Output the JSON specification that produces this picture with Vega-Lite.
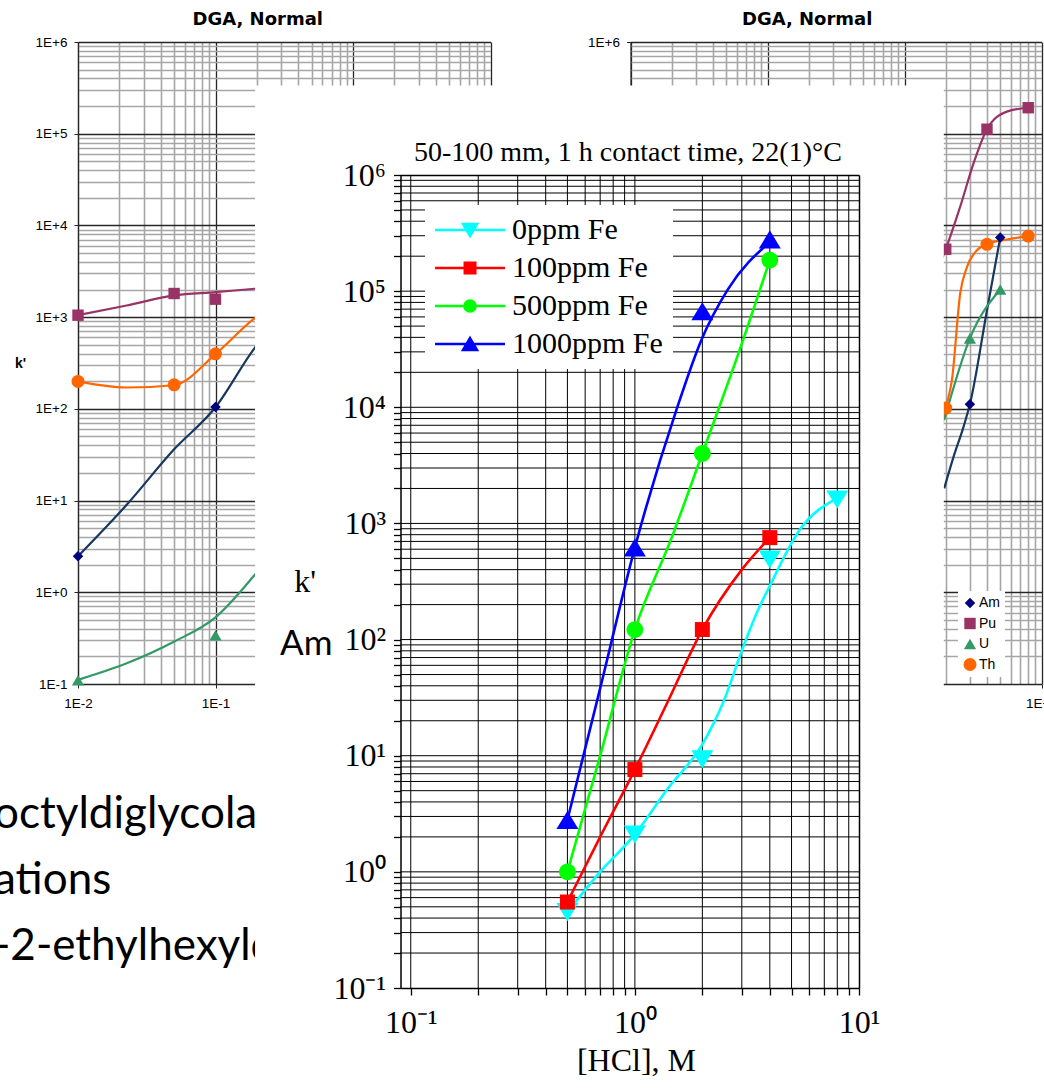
{
  "$schema": "https://vega.github.io/schema/vega-lite/v6.json",
  "width": 1044,
  "height": 1088,
  "autosize": {"type": "none"},
  "padding": 0,
  "background": "white",
  "config": {"view": {"stroke": null}},
  "data": {"values": [{}]},
  "datasets": {
    "leftCurves": [
      {"s": "Pu", "x": 0.01, "k": 1052}, {"s": "Pu", "x": 0.0226, "k": 1340}, {"s": "Pu", "x": 0.0498, "k": 1725}, {"s": "Pu", "x": 0.1, "k": 1874}, {"s": "Pu", "x": 0.193, "k": 2040}, {"s": "Pu", "x": 0.3, "k": 2150},
      {"s": "Th", "x": 0.01, "k": 199}, {"s": "Th", "x": 0.0226, "k": 171}, {"s": "Th", "x": 0.0498, "k": 181}, {"s": "Th", "x": 0.1, "k": 395}, {"s": "Th", "x": 0.193, "k": 975}, {"s": "Th", "x": 0.3, "k": 1500},
      {"s": "Am", "x": 0.01, "k": 2.47}, {"s": "Am", "x": 0.0226, "k": 9.0}, {"s": "Am", "x": 0.0498, "k": 36}, {"s": "Am", "x": 0.1, "k": 104}, {"s": "Am", "x": 0.193, "k": 462}, {"s": "Am", "x": 0.3, "k": 1000},
      {"s": "U", "x": 0.01, "k": 0.111}, {"s": "U", "x": 0.0226, "k": 0.168}, {"s": "U", "x": 0.0498, "k": 0.289}, {"s": "U", "x": 0.1, "k": 0.533}, {"s": "U", "x": 0.193, "k": 1.55}, {"s": "U", "x": 0.3, "k": 3.5}
    ],
    "leftPts": [
      {"s": "Pu", "x": 0.01, "k": 1050}, {"s": "Pu", "x": 0.05, "k": 1810}, {"s": "Pu", "x": 0.1, "k": 1570},
      {"s": "Th", "x": 0.01, "k": 199}, {"s": "Th", "x": 0.05, "k": 183}, {"s": "Th", "x": 0.1, "k": 398},
      {"s": "Am", "x": 0.01, "k": 2.47}, {"s": "Am", "x": 0.1, "k": 105},
      {"s": "U", "x": 0.01, "k": 0.11}, {"s": "U", "x": 0.1, "k": 0.34}
    ],
    "rightCurves": [
      {"s": "Pu", "x": 1.5, "k": 2000}, {"s": "Pu", "x": 2, "k": 5500}, {"s": "Pu", "x": 2.55, "k": 16000}, {"s": "Pu", "x": 3.19, "k": 47500}, {"s": "Pu", "x": 4, "k": 112000}, {"s": "Pu", "x": 5.58, "k": 174000}, {"s": "Pu", "x": 8, "k": 192000},
      {"s": "Th", "x": 1.8, "k": 45}, {"s": "Th", "x": 2, "k": 102}, {"s": "Th", "x": 2.22, "k": 207}, {"s": "Th", "x": 2.55, "k": 1810}, {"s": "Th", "x": 2.86, "k": 3540}, {"s": "Th", "x": 3.38, "k": 5370}, {"s": "Th", "x": 4, "k": 6230}, {"s": "Th", "x": 5.58, "k": 7030}, {"s": "Th", "x": 8, "k": 7660},
      {"s": "Am", "x": 1.95, "k": 13.6}, {"s": "Am", "x": 2.28, "k": 30}, {"s": "Am", "x": 2.7, "k": 64}, {"s": "Am", "x": 3, "k": 112}, {"s": "Am", "x": 4, "k": 1190}, {"s": "Am", "x": 5, "k": 7400},
      {"s": "U", "x": 1.95, "k": 76}, {"s": "U", "x": 3, "k": 587}, {"s": "U", "x": 5, "k": 2000}
    ],
    "rightPts": [
      {"s": "Pu", "x": 2, "k": 5500}, {"s": "Pu", "x": 4, "k": 112000}, {"s": "Pu", "x": 8, "k": 192000},
      {"s": "Th", "x": 2, "k": 102}, {"s": "Th", "x": 4, "k": 6230}, {"s": "Th", "x": 8, "k": 7660},
      {"s": "Am", "x": 3, "k": 112}, {"s": "Am", "x": 5, "k": 7400},
      {"s": "U", "x": 3, "k": 587}, {"s": "U", "x": 5, "k": 2000}
    ],
    "mainCurves": [
      {"c": "0ppm Fe", "hcl": 0.5, "k": 0.45}, {"c": "0ppm Fe", "hcl": 0.7, "k": 1.0}, {"c": "0ppm Fe", "hcl": 1, "k": 2.1}, {"c": "0ppm Fe", "hcl": 1.4, "k": 5.2}, {"c": "0ppm Fe", "hcl": 2, "k": 12.5}, {"c": "0ppm Fe", "hcl": 2.5, "k": 30}, {"c": "0ppm Fe", "hcl": 3, "k": 80}, {"c": "0ppm Fe", "hcl": 3.5, "k": 170}, {"c": "0ppm Fe", "hcl": 4, "k": 290}, {"c": "0ppm Fe", "hcl": 5.45, "k": 885}, {"c": "0ppm Fe", "hcl": 8, "k": 1650},
      {"c": "100ppm Fe", "hcl": 0.5, "k": 0.55}, {"c": "100ppm Fe", "hcl": 0.7, "k": 2.0}, {"c": "100ppm Fe", "hcl": 1, "k": 7.6}, {"c": "100ppm Fe", "hcl": 1.4, "k": 29}, {"c": "100ppm Fe", "hcl": 2, "k": 122}, {"c": "100ppm Fe", "hcl": 3, "k": 400}, {"c": "100ppm Fe", "hcl": 4, "k": 755},
      {"c": "500ppm Fe", "hcl": 0.5, "k": 1.0}, {"c": "500ppm Fe", "hcl": 0.7, "k": 10}, {"c": "500ppm Fe", "hcl": 1, "k": 122}, {"c": "500ppm Fe", "hcl": 1.467, "k": 774}, {"c": "500ppm Fe", "hcl": 2, "k": 4000}, {"c": "500ppm Fe", "hcl": 2.94, "k": 31500}, {"c": "500ppm Fe", "hcl": 4, "k": 185000},
      {"c": "1000ppm Fe", "hcl": 0.5, "k": 2.8}, {"c": "1000ppm Fe", "hcl": 0.7, "k": 38}, {"c": "1000ppm Fe", "hcl": 1, "k": 620}, {"c": "1000ppm Fe", "hcl": 1.535, "k": 9600}, {"c": "1000ppm Fe", "hcl": 1.985, "k": 38400}, {"c": "1000ppm Fe", "hcl": 2.6, "k": 103500}, {"c": "1000ppm Fe", "hcl": 4, "k": 265000}
    ],
    "mainPts": [
      {"c": "0ppm Fe", "hcl": 0.5, "k": 0.45}, {"c": "0ppm Fe", "hcl": 1, "k": 2.1}, {"c": "0ppm Fe", "hcl": 2, "k": 9.3}, {"c": "0ppm Fe", "hcl": 4, "k": 489}, {"c": "0ppm Fe", "hcl": 8, "k": 1610},
      {"c": "100ppm Fe", "hcl": 0.5, "k": 0.55}, {"c": "100ppm Fe", "hcl": 1, "k": 7.6}, {"c": "100ppm Fe", "hcl": 2, "k": 122}, {"c": "100ppm Fe", "hcl": 4, "k": 755},
      {"c": "500ppm Fe", "hcl": 0.5, "k": 1.0}, {"c": "500ppm Fe", "hcl": 1, "k": 122}, {"c": "500ppm Fe", "hcl": 2, "k": 4000}, {"c": "500ppm Fe", "hcl": 4, "k": 185000},
      {"c": "1000ppm Fe", "hcl": 0.5, "k": 2.8}, {"c": "1000ppm Fe", "hcl": 1, "k": 620}, {"c": "1000ppm Fe", "hcl": 2, "k": 67000}, {"c": "1000ppm Fe", "hcl": 4, "k": 279000}
    ],
    "mainGridX": [
      {"v": 0.1}, {"v": 0.2}, {"v": 0.3}, {"v": 0.4}, {"v": 0.5}, {"v": 0.6}, {"v": 0.7}, {"v": 0.8}, {"v": 0.9},
      {"v": 1}, {"v": 2}, {"v": 3}, {"v": 4}, {"v": 5}, {"v": 6}, {"v": 7}, {"v": 8}, {"v": 9}
    ],
    "mainGridY": [
      {"v": 0.2}, {"v": 0.3}, {"v": 0.4}, {"v": 0.5}, {"v": 0.6}, {"v": 0.7}, {"v": 0.8}, {"v": 0.9},
      {"v": 1}, {"v": 2}, {"v": 3}, {"v": 4}, {"v": 5}, {"v": 6}, {"v": 7}, {"v": 8}, {"v": 9},
      {"v": 10}, {"v": 20}, {"v": 30}, {"v": 40}, {"v": 50}, {"v": 60}, {"v": 70}, {"v": 80}, {"v": 90},
      {"v": 100}, {"v": 200}, {"v": 300}, {"v": 400}, {"v": 500}, {"v": 600}, {"v": 700}, {"v": 800}, {"v": 900},
      {"v": 1000}, {"v": 2000}, {"v": 3000}, {"v": 4000}, {"v": 5000}, {"v": 6000}, {"v": 7000}, {"v": 8000}, {"v": 9000},
      {"v": 10000}, {"v": 20000}, {"v": 30000}, {"v": 40000}, {"v": 50000}, {"v": 60000}, {"v": 70000}, {"v": 80000}, {"v": 90000},
      {"v": 100000}, {"v": 200000}, {"v": 300000}, {"v": 400000}, {"v": 500000}, {"v": 600000}, {"v": 700000}, {"v": 800000}, {"v": 900000}
    ]
  },
  "layer": [
    {
      "layer": [
        {
          "mark": {"type": "text", "font": "DejaVu Sans", "fontSize": 18, "fontWeight": "bold", "align": "center", "baseline": "middle", "color": "black"},
          "encoding": {
            "x": {"datum": 0.2028, "type": "quantitative", "scale": {"type": "log", "domain": [0.01, 10], "range": [78, 490.5], "nice": false},
              "axis": {"orient": "top", "offset": 0, "grid": true, "labels": false, "ticks": false, "domain": false, "title": null, "zindex": 0,
                "values": [0.01,0.02,0.03,0.04,0.05,0.06,0.07,0.08,0.09,0.1,0.2,0.3,0.4,0.5,0.6,0.7,0.8,0.9,1,2,3,4,5,6,7,8,9,10],
                "gridColor": {"condition": {"test": "abs(log(datum.value)/LN10 - round(log(datum.value)/LN10)) < 0.001", "value": "#262626"}, "value": "#a6a6a6"},
                "gridWidth": {"condition": {"test": "abs(log(datum.value)/LN10 - round(log(datum.value)/LN10)) < 0.001", "value": 1.3}, "value": 1.6}}},
            "y": {"datum": 1740000, "type": "quantitative", "scale": {"type": "log", "domain": [0.1, 1000000], "range": [684, 42], "nice": false},
              "axis": {"orient": "left", "offset": 0, "grid": true, "labels": false, "ticks": false, "domain": false, "title": null, "zindex": 0,
                "values": [0.1,0.2,0.3,0.4,0.5,0.6,0.7,0.8,0.9,1,2,3,4,5,6,7,8,9,10,20,30,40,50,60,70,80,90,100,200,300,400,500,600,700,800,900,1000,2000,3000,4000,5000,6000,7000,8000,9000,10000,20000,30000,40000,50000,60000,70000,80000,90000,100000,200000,300000,400000,500000,600000,700000,800000,900000,1000000],
                "gridColor": {"condition": {"test": "abs(log(datum.value)/LN10 - round(log(datum.value)/LN10)) < 0.001", "value": "#262626"}, "value": "#a6a6a6"},
                "gridWidth": {"condition": {"test": "abs(log(datum.value)/LN10 - round(log(datum.value)/LN10)) < 0.001", "value": 1.3}, "value": 1.6}}},
            "text": {"value": "DGA, Normal"}
          }
        },
        {
          "data": {"name": "leftCurves"},
          "mark": {"type": "line", "interpolate": "monotone", "strokeWidth": 2.2},
          "encoding": {
            "x": {"field": "x", "type": "quantitative", "scale": {"type": "log", "domain": [0.01, 10], "range": [78, 490.5], "nice": false},
              "axis": {"orient": "bottom", "offset": -404, "grid": false, "values": [0.01, 0.1], "labelExpr": "'1E' + (round(log(datum.value)/LN10) < 0 ? '-' : '+') + abs(round(log(datum.value)/LN10))",
                "labelFont": "Liberation Sans", "labelFontSize": 13.5, "labelColor": "black", "labelPadding": 8, "tickSize": 4, "tickColor": "#262626", "domainColor": "#262626", "domainWidth": 1.2,
                "labelFlush": false, "labelOverlap": false, "title": null, "zindex": 0}},
            "y": {"field": "k", "type": "quantitative", "scale": {"type": "log", "domain": [0.1, 1000000], "range": [684, 42], "nice": false},
              "axis": {"orient": "left", "offset": -78, "grid": false, "values": [0.1, 1, 10, 100, 1000, 10000, 100000, 1000000], "labelExpr": "'1E' + (round(log(datum.value)/LN10) < 0 ? '-' : '+') + abs(round(log(datum.value)/LN10))",
                "labelFont": "Liberation Sans", "labelFontSize": 13.5, "labelColor": "black", "labelPadding": 7, "tickSize": 4, "tickColor": "#262626", "domainColor": "#262626", "domainWidth": 1.2,
                "labelOverlap": false, "zindex": 0,
                "title": "k'", "titleAngle": 0, "titleFont": "Liberation Sans", "titleFontSize": 14, "titleFontWeight": "bold", "titleColor": "black", "titleX": -58, "titleY": 363, "titleAlign": "center", "titleBaseline": "middle"}},
            "color": {"field": "s", "type": "nominal", "scale": {"domain": ["Am", "Pu", "U", "Th"], "range": ["#17375E", "#993366", "#339966", "#FF6600"]}, "legend": null}
          }
        },
        {
          "data": {"name": "leftPts"},
          "mark": {"type": "point", "filled": true, "opacity": 1},
          "encoding": {
            "x": {"field": "x", "type": "quantitative", "scale": {"type": "log", "domain": [0.01, 10], "range": [78, 490.5], "nice": false}, "axis": null},
            "y": {"field": "k", "type": "quantitative", "scale": {"type": "log", "domain": [0.1, 1000000], "range": [684, 42], "nice": false}, "axis": null},
            "color": {"field": "s", "type": "nominal", "scale": {"domain": ["Am", "Pu", "U", "Th"], "range": ["#000080", "#993366", "#339966", "#FF6600"]}, "legend": null},
            "shape": {"field": "s", "type": "nominal", "scale": {"domain": ["Am", "Pu", "U", "Th"], "range": ["diamond", "square", "triangle-up", "circle"]}, "legend": null},
            "size": {"field": "s", "type": "nominal", "scale": {"domain": ["Am", "Pu", "U", "Th"], "range": [110, 170, 150, 170]}, "legend": null}
          }
        },
        {
          "mark": {"type": "text", "font": "Lato", "fontSize": 44, "align": "left", "baseline": "alphabetic", "lineHeight": 66, "color": "black"},
          "encoding": {
            "x": {"datum": 0.00245, "type": "quantitative", "scale": {"type": "log", "domain": [0.01, 10], "range": [78, 490.5], "nice": false}, "axis": null},
            "y": {"datum": 0.002692, "type": "quantitative", "scale": {"type": "log", "domain": [0.1, 1000000], "range": [684, 42], "nice": false}, "axis": null},
            "text": {"value": ["octyldiglycolam", "ations", "-2-ethylhexyld"]}
          }
        }
      ],
      "resolve": {"scale": {"color": "independent", "shape": "independent", "size": "independent"}, "axis": {"x": "independent", "y": "independent"}}
    },
    {
      "layer": [
        {
          "mark": {"type": "text", "font": "DejaVu Sans", "fontSize": 18, "fontWeight": "bold", "align": "center", "baseline": "middle", "color": "black"},
          "encoding": {
            "x": {"datum": 0.1948, "type": "quantitative", "scale": {"type": "log", "domain": [0.01, 10], "range": [630.5, 1041.5], "nice": false},
              "axis": {"orient": "top", "offset": 0, "grid": true, "labels": false, "ticks": false, "domain": false, "title": null, "zindex": 0,
                "values": [0.01,0.02,0.03,0.04,0.05,0.06,0.07,0.08,0.09,0.1,0.2,0.3,0.4,0.5,0.6,0.7,0.8,0.9,1,2,3,4,5,6,7,8,9,10],
                "gridColor": {"condition": {"test": "abs(log(datum.value)/LN10 - round(log(datum.value)/LN10)) < 0.001", "value": "#262626"}, "value": "#a6a6a6"},
                "gridWidth": {"condition": {"test": "abs(log(datum.value)/LN10 - round(log(datum.value)/LN10)) < 0.001", "value": 1.3}, "value": 1.6}}},
            "y": {"datum": 1740000, "type": "quantitative", "scale": {"type": "log", "domain": [0.1, 1000000], "range": [684, 42], "nice": false},
              "axis": {"orient": "left", "offset": 0, "grid": true, "labels": false, "ticks": false, "domain": false, "title": null, "zindex": 0,
                "values": [0.1,0.2,0.3,0.4,0.5,0.6,0.7,0.8,0.9,1,2,3,4,5,6,7,8,9,10,20,30,40,50,60,70,80,90,100,200,300,400,500,600,700,800,900,1000,2000,3000,4000,5000,6000,7000,8000,9000,10000,20000,30000,40000,50000,60000,70000,80000,90000,100000,200000,300000,400000,500000,600000,700000,800000,900000,1000000],
                "gridColor": {"condition": {"test": "abs(log(datum.value)/LN10 - round(log(datum.value)/LN10)) < 0.001", "value": "#262626"}, "value": "#a6a6a6"},
                "gridWidth": {"condition": {"test": "abs(log(datum.value)/LN10 - round(log(datum.value)/LN10)) < 0.001", "value": 1.3}, "value": 1.6}}},
            "text": {"value": "DGA, Normal"}
          }
        },
        {
          "data": {"name": "rightCurves"},
          "mark": {"type": "line", "interpolate": "monotone", "strokeWidth": 2.2},
          "encoding": {
            "x": {"field": "x", "type": "quantitative", "scale": {"type": "log", "domain": [0.01, 10], "range": [630.5, 1041.5], "nice": false},
              "axis": {"orient": "bottom", "offset": -404, "grid": false, "values": [10], "labelExpr": "'1E' + (round(log(datum.value)/LN10) < 0 ? '-' : '+') + abs(round(log(datum.value)/LN10))",
                "labelFont": "Liberation Sans", "labelFontSize": 13.5, "labelColor": "black", "labelPadding": 8, "tickSize": 4, "tickColor": "#262626", "domainColor": "#262626", "domainWidth": 1.2,
                "labelFlush": false, "labelOverlap": false, "labelBound": false, "title": null, "zindex": 0}},
            "y": {"field": "k", "type": "quantitative", "scale": {"type": "log", "domain": [0.1, 1000000], "range": [684, 42], "nice": false},
              "axis": {"orient": "left", "offset": -630.5, "grid": false, "values": [1000000], "labelExpr": "'1E' + (round(log(datum.value)/LN10) < 0 ? '-' : '+') + abs(round(log(datum.value)/LN10))",
                "labelFont": "Liberation Sans", "labelFontSize": 13.5, "labelColor": "black", "labelPadding": 7, "tickSize": 4, "tickColor": "#262626", "domainColor": "#262626", "domainWidth": 1.2,
                "labelOverlap": false, "title": null, "zindex": 0}},
            "color": {"field": "s", "type": "nominal", "scale": {"domain": ["Am", "Pu", "U", "Th"], "range": ["#17375E", "#993366", "#339966", "#FF6600"]}, "legend": null}
          }
        },
        {
          "data": {"name": "rightPts"},
          "mark": {"type": "point", "filled": true, "opacity": 1},
          "encoding": {
            "x": {"field": "x", "type": "quantitative", "scale": {"type": "log", "domain": [0.01, 10], "range": [630.5, 1041.5], "nice": false}, "axis": null},
            "y": {"field": "k", "type": "quantitative", "scale": {"type": "log", "domain": [0.1, 1000000], "range": [684, 42], "nice": false}, "axis": null},
            "color": {"field": "s", "type": "nominal", "scale": {"domain": ["Am", "Pu", "U", "Th"], "range": ["#000080", "#993366", "#339966", "#FF6600"]},
              "legend": {"orient": "none", "legendX": 958, "legendY": 591, "title": null, "fillColor": "white", "padding": 5, "rowPadding": 6.5, "labelFont": "Liberation Sans", "labelFontSize": 14, "labelColor": "black", "labelOffset": 2, "symbolSize": 90, "symbolStrokeWidth": 0}},
            "shape": {"field": "s", "type": "nominal", "scale": {"domain": ["Am", "Pu", "U", "Th"], "range": ["diamond", "square", "triangle-up", "circle"]},
              "legend": {"orient": "none", "legendX": 958, "legendY": 591, "title": null, "fillColor": "white", "padding": 5, "rowPadding": 6.5, "labelFont": "Liberation Sans", "labelFontSize": 14, "labelColor": "black", "labelOffset": 2, "symbolSize": 90, "symbolStrokeWidth": 0}},
            "size": {"field": "s", "type": "nominal", "scale": {"domain": ["Am", "Pu", "U", "Th"], "range": [110, 170, 150, 170]}, "legend": null}
          }
        }
      ],
      "resolve": {"scale": {"color": "independent", "shape": "independent", "size": "independent"}, "axis": {"x": "independent", "y": "independent"}}
    },
    {
      "layer": [
        {
          "mark": {"type": "rect", "color": "white"},
          "encoding": {
            "x": {"datum": 0.0202, "type": "quantitative", "scale": {"type": "log", "domain": [0.09, 10], "range": [400.5, 859], "nice": false},
              "axis": {"orient": "top", "offset": -175, "grid": false, "labels": false, "ticks": false, "domain": true, "domainColor": "black", "domainWidth": 1.5, "title": null, "zindex": 1}},
            "x2": {"datum": 23.9},
            "y": {"datum": 5890000, "type": "quantitative", "scale": {"type": "log", "domain": [0.1, 1000000], "range": [988, 175], "nice": false},
              "axis": {"orient": "right", "offset": -185, "grid": false, "labels": false, "ticks": false, "domain": true, "domainColor": "black", "domainWidth": 1.5, "title": null, "zindex": 1}},
            "y2": {"datum": 0.001}
          }
        },
        {
          "data": {"name": "mainGridX"},
          "mark": {"type": "rule", "color": "black", "strokeWidth": 1},
          "encoding": {
            "x": {"field": "v", "type": "quantitative", "scale": {"type": "log", "domain": [0.09, 10], "range": [400.5, 859], "nice": false}, "axis": null},
            "y": {"datum": 0.1, "type": "quantitative", "scale": {"type": "log", "domain": [0.1, 1000000], "range": [988, 175], "nice": false}, "axis": null},
            "y2": {"datum": 1000000}
          }
        },
        {
          "data": {"name": "mainGridY"},
          "mark": {"type": "rule", "color": "black", "strokeWidth": 1},
          "encoding": {
            "y": {"field": "v", "type": "quantitative", "scale": {"type": "log", "domain": [0.1, 1000000], "range": [988, 175], "nice": false}, "axis": null},
            "x": {"datum": 0.09, "type": "quantitative", "scale": {"type": "log", "domain": [0.09, 10], "range": [400.5, 859], "nice": false}, "axis": null},
            "x2": {"datum": 10}
          }
        },
        {
          "mark": {"type": "text", "font": "Liberation Serif", "fontSize": 28, "align": "center", "baseline": "alphabetic", "color": "black"},
          "encoding": {
            "x": {"datum": 0.9306, "type": "quantitative", "scale": {"type": "log", "domain": [0.09, 10], "range": [400.5, 859], "nice": false}, "axis": null},
            "y": {"datum": 1330000, "type": "quantitative", "scale": {"type": "log", "domain": [0.1, 1000000], "range": [988, 175], "nice": false}, "axis": null},
            "text": {"value": "50-100 mm, 1 h contact time, 22(1)°C"}
          }
        },
        {
          "data": {"name": "mainCurves"},
          "mark": {"type": "line", "interpolate": "monotone", "strokeWidth": 2.6},
          "encoding": {
            "x": {"field": "hcl", "type": "quantitative", "scale": {"type": "log", "domain": [0.09, 10], "range": [400.5, 859], "nice": false},
              "axis": {"orient": "bottom", "offset": -100, "grid": false, "domain": true, "domainColor": "black", "domainWidth": 1.5, "ticks": true, "tickColor": "black", "tickSize": 7, "tickWidth": 1.3,
                "values": [0.1,0.2,0.3,0.4,0.5,0.6,0.7,0.8,0.9,1,2,3,4,5,6,7,8,9,10],
                "labelExpr": "abs(log(datum.value)/LN10 - round(log(datum.value)/LN10)) < 0.001 ? '10' + ['⁻¹','⁰','¹','²','³','⁴','⁵','⁶'][round(log(datum.value)/LN10) + 1] : ''",
                "labelFont": "Liberation Serif", "labelFontSize": 32, "labelColor": "black", "labelPadding": 12, "labelOverlap": false, "labelFlush": false, "labelBound": false,
                "title": "[HCl], M", "titleFont": "Liberation Serif", "titleFontSize": 32, "titleFontWeight": "normal", "titleColor": "black", "titleX": 636, "titleY": 82, "titleAlign": "center", "titleBaseline": "alphabetic", "zindex": 1}},
            "y": {"field": "k", "type": "quantitative", "scale": {"type": "log", "domain": [0.1, 1000000], "range": [988, 175], "nice": false},
              "axis": {"orient": "left", "offset": -400.5, "grid": false, "domain": true, "domainColor": "black", "domainWidth": 1.5, "ticks": true, "tickColor": "black", "tickSize": 7, "tickWidth": 1.3,
                "values": [0.1,0.2,0.3,0.4,0.5,0.6,0.7,0.8,0.9,1,2,3,4,5,6,7,8,9,10,20,30,40,50,60,70,80,90,100,200,300,400,500,600,700,800,900,1000,2000,3000,4000,5000,6000,7000,8000,9000,10000,20000,30000,40000,50000,60000,70000,80000,90000,100000,200000,300000,400000,500000,600000,700000,800000,900000,1000000],
                "labelExpr": "abs(log(datum.value)/LN10 - round(log(datum.value)/LN10)) < 0.001 ? '10' + ['⁻¹','⁰','¹','²','³','⁴','⁵','⁶'][round(log(datum.value)/LN10) + 1] : ''",
                "labelFont": "Liberation Serif", "labelFontSize": 32, "labelColor": "black", "labelPadding": 8, "labelOverlap": false, "labelFlush": false, "labelBound": false,
                "title": "k'", "titleAngle": 0, "titleFont": "Liberation Serif", "titleFontSize": 32, "titleFontWeight": "normal", "titleColor": "black", "titleX": -96, "titleY": 581, "titleAlign": "center", "titleBaseline": "middle", "zindex": 1}},
            "color": {"field": "c", "type": "nominal", "scale": {"domain": ["0ppm Fe", "100ppm Fe", "500ppm Fe", "1000ppm Fe"], "range": ["#00FFFF", "#FF0000", "#00FF00", "#0000FF"]}, "legend": null}
          }
        },
        {
          "data": {"name": "mainPts"},
          "mark": {"type": "point", "filled": true, "opacity": 1, "size": 196},
          "encoding": {
            "x": {"field": "hcl", "type": "quantitative", "scale": {"type": "log", "domain": [0.09, 10], "range": [400.5, 859], "nice": false}, "axis": null},
            "y": {"field": "k", "type": "quantitative", "scale": {"type": "log", "domain": [0.1, 1000000], "range": [988, 175], "nice": false}, "axis": null},
            "color": {"field": "c", "type": "nominal", "scale": {"domain": ["0ppm Fe", "100ppm Fe", "500ppm Fe", "1000ppm Fe"], "range": ["#00FFFF", "#FF0000", "#00FF00", "#0000FF"]}, "legend": null},
            "shape": {"field": "c", "type": "nominal", "scale": {"domain": ["0ppm Fe", "100ppm Fe", "500ppm Fe", "1000ppm Fe"],
              "range": ["M-1.57,-1.29L1.57,-1.29L0,1.29Z", "M-1.07,-1.07H1.07V1.07H-1.07Z", "M-1.2,0A1.2,1.2,0,1,0,1.2,0A1.2,1.2,0,1,0,-1.2,0Z", "M0,-1.29L1.57,1.29L-1.57,1.29Z"]}, "legend": null}
          }
        },
        {
          "data": {"name": "mainPts"},
          "mark": {"type": "point", "filled": true, "opacity": 0, "size": 196},
          "encoding": {
            "x": {"field": "hcl", "type": "quantitative", "scale": {"type": "log", "domain": [0.09, 10], "range": [400.5, 859], "nice": false}, "axis": null},
            "y": {"field": "k", "type": "quantitative", "scale": {"type": "log", "domain": [0.1, 1000000], "range": [988, 175], "nice": false}, "axis": null},
            "fill": {"field": "c", "type": "nominal", "scale": {"domain": ["0ppm Fe", "100ppm Fe", "500ppm Fe", "1000ppm Fe"], "range": ["#00FFFF", "#FF0000", "#00FF00", "#0000FF"]},
              "legend": {"orient": "none", "legendX": 425, "legendY": 205, "title": null, "fillColor": "white", "padding": 10, "rowPadding": 8, "labelFont": "Liberation Serif", "labelFontSize": 30, "labelColor": "black", "labelOffset": 47, "labelLimit": 400, "symbolSize": 196, "symbolStrokeWidth": 2.5, "symbolOpacity": 1, "zindex": 2}},
            "stroke": {"field": "c", "type": "nominal", "scale": {"domain": ["0ppm Fe", "100ppm Fe", "500ppm Fe", "1000ppm Fe"], "range": ["#00FFFF", "#FF0000", "#00FF00", "#0000FF"]},
              "legend": {"orient": "none", "legendX": 425, "legendY": 205, "title": null, "fillColor": "white", "padding": 10, "rowPadding": 8, "labelFont": "Liberation Serif", "labelFontSize": 30, "labelColor": "black", "labelOffset": 47, "labelLimit": 400, "symbolSize": 196, "symbolStrokeWidth": 2.5, "symbolOpacity": 1, "zindex": 2}},
            "shape": {"field": "c", "type": "nominal", "scale": {"domain": ["0ppm Fe", "100ppm Fe", "500ppm Fe", "1000ppm Fe"],
              "range": ["M-2.14,0H7.86M1.86,-0.85L3.86,-0.85L2.86,0.85Z", "M-2.14,0H7.86M2.11,-0.75H3.61V0.75H2.11Z", "M-2.14,0H7.86M2.06,0A0.8,0.8,0,1,0,3.66,0A0.8,0.8,0,1,0,2.06,0Z", "M-2.14,0H7.86M2.86,-0.85L3.86,0.85L1.86,0.85Z"]},
              "legend": {"orient": "none", "legendX": 425, "legendY": 205, "title": null, "fillColor": "white", "padding": 10, "rowPadding": 8, "labelFont": "Liberation Serif", "labelFontSize": 30, "labelColor": "black", "labelOffset": 47, "labelLimit": 400, "symbolSize": 196, "symbolStrokeWidth": 2.5, "symbolOpacity": 1, "zindex": 2}}
          }
        },
        {
          "mark": {"type": "text", "font": "Lato", "fontSize": 35, "align": "left", "baseline": "alphabetic", "color": "black"},
          "encoding": {
            "x": {"datum": 0.0261, "type": "quantitative", "scale": {"type": "log", "domain": [0.09, 10], "range": [400.5, 859], "nice": false}, "axis": null},
            "y": {"datum": 74.3, "type": "quantitative", "scale": {"type": "log", "domain": [0.1, 1000000], "range": [988, 175], "nice": false}, "axis": null},
            "text": {"value": "Am"}
          }
        }
      ],
      "resolve": {"scale": {"color": "independent", "shape": "independent", "fill": "independent", "stroke": "independent"}, "axis": {"x": "independent", "y": "independent"}}
    }
  ],
  "resolve": {
    "scale": {"x": "independent", "y": "independent", "color": "independent", "shape": "independent", "size": "independent", "fill": "independent", "stroke": "independent"},
    "axis": {"x": "independent", "y": "independent"}
  }
}
